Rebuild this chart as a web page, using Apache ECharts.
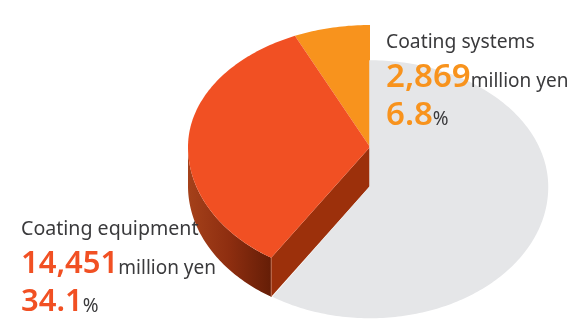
<!DOCTYPE html>
<html>
<head>
<meta charset="utf-8">
<style>html,body{margin:0;padding:0;background:#fff}#c{width:572px;height:320px}</style>
<script src="https://cdn.jsdelivr.net/npm/echarts@6/dist/echarts.min.js"></script>
</head>
<body>
<div id="c"></div>
<script>
// Sales composition, million yen
const names = ['Coating systems', 'Coating equipment', 'Other'];
const sales = [2869, 14451, 25058];
const shares = [6.8, 34.1, 59.1];
const salesLabels = ['2,869', '14,451'];
const shareLabels = ['6.8', '34.1'];
const unit = 'million yen';
const colors = ['#F8931D', '#F15023', '#E5E6E8'];

// Tilted-disc geometry: the near half of the disc is slightly deeper than the far half
const raised = { cx: 370, cy: 147, rx: 182, far: 122, near: 132 };
const lowered = { cx: 370, cy: 187, rx: 177.5, far: 126, near: 130.5 };
const depth = 39;

function rim(d, turn) {
  const a = turn * 2 * Math.PI;
  const c = Math.cos(a);
  return [d.cx - d.rx * Math.sin(a), d.cy - c * (c > 0 ? d.far : d.near)];
}
function arc(d, from, to) {
  const pts = [];
  const n = Math.max(2, Math.ceil(Math.abs(to - from) * 360));
  for (let i = 0; i <= n; i++) pts.push(rim(d, from + (to - from) * i / n));
  return pts;
}
const shift = (pts, dy) => pts.map(p => [p[0], p[1] + dy]);
const total = sales.reduce((a, b) => a + b, 0);

function renderSlice(params, api) {
  const i = params.dataIndex;
  let from = 0;
  for (let k = 0; k < i; k++) from += sales[k] / total;
  const to = from + api.value(0) / total;
  const fill = colors[i];
  if (i === 2) {
    return { type: 'polygon', z2: 0,
      shape: { points: [[lowered.cx, lowered.cy]].concat(arc(lowered, from, to)) },
      style: { fill, stroke: fill, lineWidth: 1.5 } };
  }
  const children = [];
  const top = [[raised.cx, raised.cy]].concat(arc(raised, from, to));
  if (i === 1) {
    // outer wall of the raised wedge, shaded towards its front corner
    const edge = arc(raised, 0.25, to);
    children.push({ type: 'polygon',
      shape: { points: edge.concat(shift(edge, depth).reverse()) },
      style: { fill: new echarts.graphic.LinearGradient(188, 0, 270, 0, [
        { offset: 0, color: '#A5411A' },
        { offset: 0.5, color: '#8E2E10' },
        { offset: 1, color: '#661E07' }
      ], true) } });
    // cut face running back to the centre
    const tip = rim(raised, to);
    children.push({ type: 'polygon',
      shape: { points: [[raised.cx, raised.cy], tip, [tip[0], tip[1] + depth], [raised.cx, raised.cy + depth]] },
      style: { fill: '#9C300B' } });
    // pale highlight along the front corner
    children.push({ type: 'line',
      shape: { x1: tip[0], y1: tip[1], x2: tip[0], y2: tip[1] + depth },
      style: { stroke: '#BC6A4C', lineWidth: 1 } });
  }
  children.push({ type: 'polygon', shape: { points: top }, style: { fill } });
  return { type: 'group', z2: 1, children };
}

// Callout text blocks
const face = '"Noto Sans"';
function callout(i, x, y, numberSize, titleSize) {
  const number = { fontSize: numberSize, fontWeight: 600, fill: colors[i], lineHeight: 38, fontFamily: face };
  const small = { fontSize: 19, fill: '#3A3A3C', fontFamily: face };
  return {
    type: 'text', left: x, top: y, z: 10,
    style: {
      text: `{t|${names[i]}}\n{n|${salesLabels[i]}}{u|${unit}}\n{n|${shareLabels[i]}}{u|%}`,
      rich: {
        t: Object.assign({}, small, { fontSize: titleSize, lineHeight: 32 }),
        u: Object.assign({ padding: [9, 0, 0, 0] }, small),
        n: number
      }
    }
  };
}

const chart = echarts.init(document.getElementById('c'), null, { renderer: 'canvas' });
chart.setOption({
  animation: false,
  backgroundColor: '#fff',
  series: [{
    type: 'custom',
    coordinateSystem: 'none',
    renderItem: renderSlice,
    data: sales.map((v, i) => ({ value: [v, shares[i]], name: names[i] })),
    silent: true
  }],
  graphic: [callout(0, 386, 33, 33, 19.3), callout(1, 21, 219, 31, 19.6)]
});
</script>
</body>
</html>
